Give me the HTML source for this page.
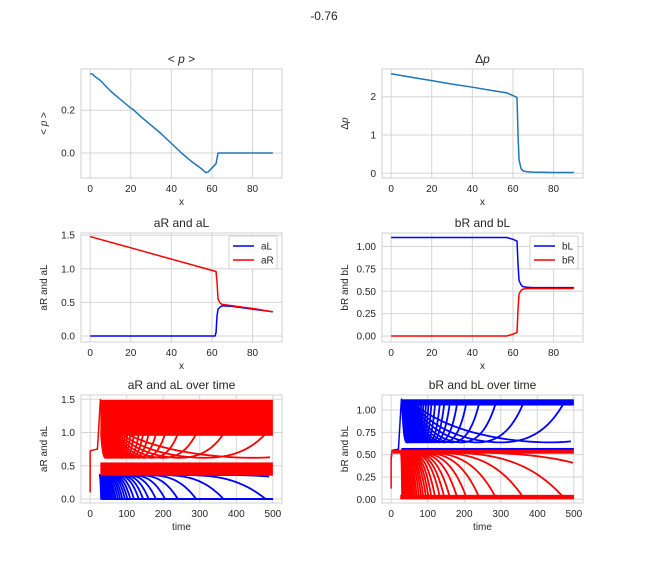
<!DOCTYPE html>
<html><head><meta charset="utf-8"><style>
body{margin:0;background:#fff}
svg text{font-family:"Liberation Sans",sans-serif;fill:#262626}
</style></head><body>
<svg id="fig" width="648" height="576" viewBox="0 0 648 576" xmlns="http://www.w3.org/2000/svg">
<rect width="648" height="576" fill="#fff"/>
<text x="324" y="20" text-anchor="middle" font-size="12">-0.76</text>
</svg>
<script>
// ---- data ----
const pMeanX=[0,1,2,5,10,15,20,21,25,30,35,40,45,50,55,57,58,60,62,63,65,70,80,90];
const pMeanY=[0.37,0.37,0.36,0.34,0.29,0.25,0.21,0.205,0.17,0.13,0.09,0.045,0.0,-0.04,-0.075,-0.092,-0.09,-0.07,-0.05,0.0,0.0,0.0,0.0,0.0];
const dPX=[0,10,20,30,40,50,57,60,62,62.5,63,64,65,67,70,80,90];
const dPY=[2.6,2.51,2.42,2.33,2.25,2.16,2.1,2.03,1.98,1.0,0.35,0.12,0.06,0.04,0.03,0.02,0.02];
const aRX=[0,62,62.5,63,64,65,70,80,90];
const aRY=[1.48,0.96,0.8,0.55,0.49,0.47,0.45,0.41,0.36];
const aLX=[0,61.5,62,62.5,63,64,65,70,80,90];
const aLY=[0,0,0.05,0.3,0.40,0.43,0.45,0.44,0.40,0.36];
const bLX=[0,57,60,61,62,62.5,63,64,65,67,70,90];
const bLY=[1.10,1.10,1.08,1.07,1.06,0.8,0.62,0.57,0.55,0.545,0.54,0.54];
const bRX=[0,57,60,61,62,62.5,63,64,65,67,90];
const bRY=[0,0,0.02,0.03,0.04,0.3,0.47,0.51,0.525,0.53,0.53];
const aSwitchTimes=[30,33,36,40,44,48,52,56,60,65,70,76,82,88,95,102,110,120,133,145,160,180,205,240,290,365,480,700];
const bSwitchTimes=[30,33,36,40,44,48,52,56,60,65,70,76,82,88,95,102,110,120,133,145,160,180,205,240,285,360,470,700];
const timeTicks=[0,100,200,300,400,500];
const xTicks=[0,20,40,60,80];
const TMAX=500;

const NS="http://www.w3.org/2000/svg";
const svg=document.getElementById('fig');
function el(tag,attrs,parent){const e=document.createElementNS(NS,tag);for(const k in attrs)e.setAttribute(k,attrs[k]);(parent||svg).appendChild(e);return e;}

function panel(o){
  const g=el('g',{});
  
  
  const sx=v=>o.l+(v-o.xd[0])/(o.xd[1]-o.xd[0])*(o.r-o.l);
  const sy=v=>o.b-(v-o.yd[0])/(o.yd[1]-o.yd[0])*(o.b-o.t);
  o.xt.forEach(v=>{
    el('line',{x1:sx(v),x2:sx(v),y1:o.t,y2:o.b,stroke:'#d5d5d5','stroke-width':1},g);
    const t=el('text',{x:sx(v),y:o.b+14,'text-anchor':'middle','font-size':10},g);t.textContent=v;
    
    
  });
  o.yt.forEach((v,i)=>{
    el('line',{x1:o.l,x2:o.r,y1:sy(v),y2:sy(v),stroke:'#d5d5d5','stroke-width':1},g);
    const t=el('text',{x:o.l-6,y:sy(v)+3.5,'text-anchor':'end','font-size':10},g);t.textContent=o.ytl[i];
    
    
  });
  el('rect',{x:o.l,y:o.t,width:o.r-o.l,height:o.b-o.t,fill:'none',stroke:'#d0d0d0','stroke-width':1},g);
  const tt=el('text',{x:(o.l+o.r)/2,y:o.t-6,'text-anchor':'middle','font-size':12},g);
  tt.innerHTML=o.titleHTML||o.title;
  
  
  const xl=el('text',{x:(o.l+o.r)/2,y:o.b+27,'text-anchor':'middle','font-size':10},g);xl.textContent=o.xlabel;
  
  
  const yx=o.l-34, yy=(o.t+o.b)/2;
  const yl=el('text',{x:yx,y:yy,'text-anchor':'middle','font-size':10,transform:`rotate(-90 ${yx} ${yy})`},g);
  yl.innerHTML=o.ylabelHTML||o.ylabel;
  
  
  const clip='c'+o.name;
  const cp=el('clipPath',{id:clip},g);el('rect',{x:o.l,y:o.t,width:o.r-o.l,height:o.b-o.t},cp);
  const dg=el('g',{'clip-path':`url(#${clip})`},g);
  return {g,dg,sx,sy};
}
function line(P,xs,ys,color,name,w){
  const d=xs.map((x,i)=>(i?'L':'M')+P.sx(x).toFixed(2)+','+P.sy(ys[i]).toFixed(2)).join('');
  const p=el('path',{d,fill:'none',stroke:color,'stroke-width':w||1.5,'stroke-linejoin':'round'},P.dg);
  
  
}
function band(P,x0,x1,y0,y1,color,name){
  const r=el('rect',{x:P.sx(x0),y:P.sy(y1),width:P.sx(x1)-P.sx(x0),height:P.sy(y0)-P.sy(y1),fill:color},P.dg);
  
  
}
function legend(P,x,y,items){
  const g=el('g',{},P.g);
  
  
  el('rect',{x,y,width:48,height:33,rx:2,fill:'#fff','fill-opacity':0.85,stroke:'#d0d0d0'},g);
  items.forEach((it,i)=>{
    const yy=y+10+i*14;
    el('line',{x1:x+4,x2:x+25,y1:yy,y2:yy,stroke:it[1],'stroke-width':1.5},g);
    const t=el('text',{x:x+32,y:yy+3.5,'font-size':10},g);t.textContent=it[0];
    
    
  });
}
const topX=[-4.5,94.5];
const pHTML='&lt; <tspan font-style="italic">p</tspan> &gt;';
const dHTML='Δ<tspan font-style="italic">p</tspan>';
// P1
let P=panel({name:'mean-p-panel',l:81,r:282,t:69,b:178,xd:topX,yd:[-0.117,0.393],xt:xTicks,yt:[0,0.2],ytl:['0.0','0.2'],title:'< p >',titleHTML:pHTML,xlabel:'x',ylabel:'< p >',ylabelHTML:pHTML});
line(P,pMeanX,pMeanY,'#1f77b4','mean-p-line');
// P2
P=panel({name:'delta-p-panel',l:382,r:583,t:69,b:178,xd:topX,yd:[-0.123,2.725],xt:xTicks,yt:[0,1,2],ytl:['0','1','2'],title:'Δp',titleHTML:dHTML,xlabel:'x',ylabel:'Δp',ylabelHTML:dHTML});
line(P,dPX,dPY,'#1f77b4','delta-p-line');
// P3
P=panel({name:'a-panel',l:81,r:282,t:233,b:342,xd:topX,yd:[(336-342)/67.2,(336-233)/67.2],xt:xTicks,yt:[0,0.5,1,1.5],ytl:['0.0','0.5','1.0','1.5'],title:'aR and aL',xlabel:'x',ylabel:'aR and aL'});
line(P,aLX,aLY,'blue','aL-line');
line(P,aRX,aRY,'red','aR-line');
legend(P,229,236,[['aL','blue'],['aR','red']]);
// P4
P=panel({name:'b-panel',l:382,r:583,t:233,b:342,xd:topX,yd:[(336-342)/89.5,(336-233)/89.5],xt:xTicks,yt:[0,0.25,0.5,0.75,1],ytl:['0.00','0.25','0.50','0.75','1.00'],title:'bR and bL',xlabel:'x',ylabel:'bR and bL'});
line(P,bLX,bLY,'blue','bL-line');
line(P,bRX,bRY,'red','bR-line');
legend(P,530,236,[['bL','blue'],['bR','red']]);
// P5
P=panel({name:'a-time-panel',l:81,r:282,t:395,b:503,xd:[-25,525],yd:[(499-503)/66.5,(499-395)/66.5],xt:timeTicks,yt:[0,0.5,1,1.5],ytl:['0.0','0.5','1.0','1.5'],title:'aR and aL over time',xlabel:'time',ylabel:'aR and aL'});
aSwitchTimes.forEach(T=>{
  const xs=[],ys=[];const t0=Math.max(25,0.5*T);
  xs.push(25);ys.push(0.36);
  for(let k=0;k<=20;k++){const t=t0+(T-t0)*k/20;if(t>TMAX)break;xs.push(t);ys.push(0.36*(1-Math.pow(k/20,3)));}
  if(T<TMAX){xs.push(TMAX);ys.push(0);}
  line(P,xs,ys,'blue','aL-trajectory',1.8);
});
band(P,28,500,0.35,0.55,'red','aR-lower-band');
band(P,28,500,0.95,1.49,'red','aR-upper-band');
line(P,[0,0,3,20,28,30],[0.1,0.72,0.73,0.75,1.49,1.49],'red','aR-initial');
aSwitchTimes.forEach(T=>{
  const xs=[],ys=[];
  for(let k=0;k<=40;k++){const t=60+(T-60)*k/40;if(t>TMAX)break;const f=k/40;xs.push(t);ys.push(0.55+0.55*Math.exp(-4*f)+0.42*Math.pow(f,6));}
  line(P,xs,ys,'red','aR-trajectory',1.8);
});
// P6
P=panel({name:'b-time-panel',l:382,r:583,t:395,b:503,xd:[-25,525],yd:[(499.3-503)/89.3,(499.3-395)/89.3],xt:timeTicks,yt:[0,0.25,0.5,0.75,1],ytl:['0.00','0.25','0.50','0.75','1.00'],title:'bR and bL over time',xlabel:'time',ylabel:'bR and bL'});
band(P,28,500,1.05,1.12,'blue','bL-upper-band');
band(P,28,500,0.55,0.575,'blue','bL-lower-band');
line(P,[0,3,20,28,30],[0.45,0.55,0.56,1.12,1.12],'blue','bL-initial');
bSwitchTimes.forEach(T=>{
  const xs=[],ys=[];
  for(let k=0;k<=40;k++){const t=60+(T-60)*k/40;if(t>TMAX)break;const f=k/40;xs.push(t);ys.push(0.57+0.5*Math.exp(-4*f)+0.48*Math.pow(f,6));}
  line(P,xs,ys,'blue','bL-trajectory',1.8);
});
band(P,5,500,0.51,0.555,'red','bR-upper-band');
band(P,25,500,0.0,0.05,'red','bR-lower-band');
line(P,[0,0,3,8],[0.12,0.46,0.55,0.55],'red','bR-initial');
bSwitchTimes.forEach(T=>{
  const xs=[],ys=[];
  for(let k=0;k<=40;k++){const f=k/40;const t=25+(T-25)*f;if(t>TMAX)break;xs.push(t);ys.push(0.03+0.5*(1-Math.pow(f,4)));}
  if(T<TMAX){xs.push(TMAX);ys.push(0.03);}
  line(P,xs,ys,'red','bR-trajectory',1.8);
});
</script>
</body></html>
